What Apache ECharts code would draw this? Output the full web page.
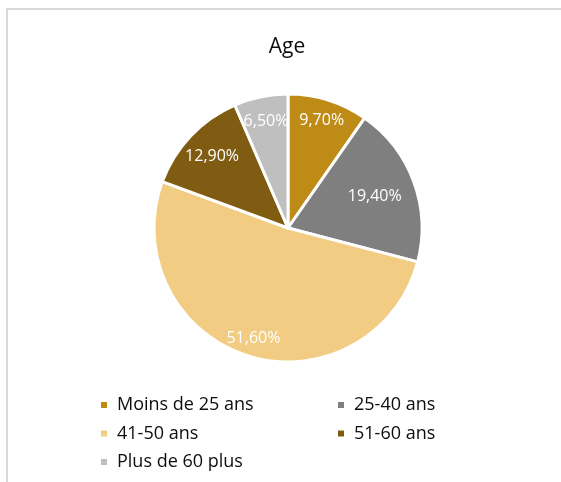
<!DOCTYPE html>
<html>
<head>
<meta charset="utf-8">
<script src="https://cdn.jsdelivr.net/npm/echarts@6/dist/echarts.min.js"></script>
<style>
  html, body { margin: 0; padding: 0; background: #ffffff; }
  #chart { width: 561px; height: 482px; }
</style>
</head>
<body>
<div id="chart"></div>
<script>
// Age breakdown (percent of respondents)
const categories = ['Moins de 25 ans', '25-40 ans', '41-50 ans', '51-60 ans', 'Plus de 60 plus'];
const shares = [9.7, 19.4, 51.6, 12.9, 6.5];
const sliceColors = ['#BF8B17', '#7F7F7F', '#F1CC82', '#7F5C12', '#BFBFBF'];

// Pie geometry and where each value label sits (fraction of radius)
const CX = 288, CY = 228, R = 134;
const labelRadius = [0.84, 0.69, 0.86, 0.78, 0.81];

const total = shares.reduce((s, v) => s + v, 0);
const midAngles = [];
let acc = 0;
shares.forEach(v => { midAngles.push((acc + v / 2) / total * 2 * Math.PI); acc += v; });

const FONT = 'Open Sans';
const chart = echarts.init(document.getElementById('chart'), null, { renderer: 'canvas' });

const legendCommon = {
  orient: 'vertical',
  icon: 'rect',
  itemWidth: 8,
  itemHeight: 8,
  itemGap: 8.5,
  padding: 0,
  top: 395,
  selectedMode: false,
  textStyle: { fontFamily: FONT, fontSize: 18, lineHeight: 20, color: '#0d0d0d', padding: [0, 0, 0, 4] }
};

chart.setOption({
  animation: false,
  backgroundColor: '#ffffff',
  color: sliceColors,
  graphic: [{
    type: 'rect',
    shape: { x: 7, y: 9, width: 700, height: 700 },
    style: { fill: 'none', stroke: '#d9d9d9', lineWidth: 2 },
    silent: true
  }],
  title: {
    text: 'Age',
    left: CX - 1,
    textAlign: 'center',
    top: 37,
    padding: 0,
    textStyle: { fontFamily: FONT, fontSize: 21, fontWeight: 'normal', color: '#0d0d0d', lineHeight: 21 }
  },
  legend: [
    Object.assign({}, legendCommon, { left: 99, data: [categories[0], categories[2], categories[4]] }),
    Object.assign({}, legendCommon, { left: 336, data: [categories[1], categories[3]] })
  ],
  series: [{
    type: 'pie',
    center: [CX, CY],
    radius: R,
    startAngle: 90,
    clockwise: true,
    avoidLabelOverlap: false,
    emphasis: { disabled: true },
    itemStyle: { borderColor: '#ffffff', borderWidth: 3 },
    label: {
      show: true,
      position: 'inside',
      color: '#ffffff',
      fontFamily: FONT,
      fontSize: 16,
      formatter: p => p.value.toFixed(2).replace('.', ',') + '%'
    },
    labelLine: { show: false },
    labelLayout: function (p) {
      const i = p.dataIndex;
      const rr = R * labelRadius[i];
      return {
        x: CX + rr * Math.sin(midAngles[i]),
        y: CY - rr * Math.cos(midAngles[i]),
        align: 'center',
        verticalAlign: 'middle'
      };
    },
    data: categories.map((name, i) => ({ name: name, value: shares[i] }))
  }]
});
</script>
</body>
</html>
